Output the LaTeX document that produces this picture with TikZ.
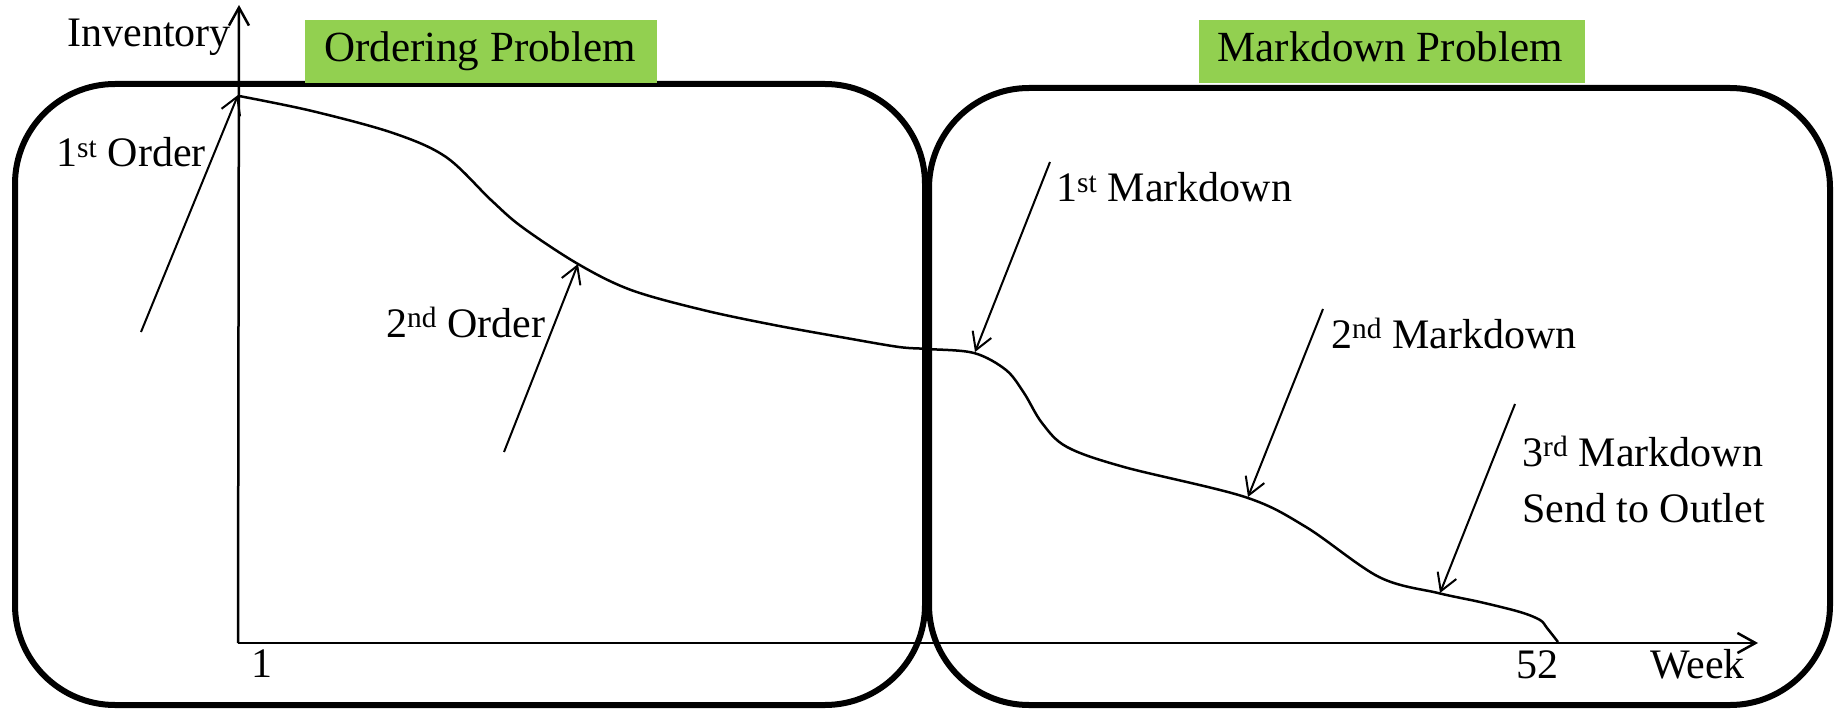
\documentclass[tikz,border=0pt]{standalone}
\usepackage{fontspec}
\setmainfont{Liberation Serif}
\usetikzlibrary{arrows.meta}
\definecolor{titlegreen}{HTML}{92D050}
\tikzset{
  panel/.style={draw=black, line width=6pt, rounded corners=100pt},
  axis/.style={draw=black, line width=2.5pt, -{Straight Barb[length=18pt,width=20pt,line width=2.5pt]}},
  pointer/.style={draw=black, line width=2pt, -{Straight Barb[length=17pt,width=20pt,line width=2pt]}},
  txt/.style={inner sep=0pt, font=\fontsize{42}{50}\selectfont},
  titletxt/.style={inner sep=0pt, font=\fontsize{43}{52}\selectfont},
  stock/.style={draw=black, line width=2.5pt},
}
\begin{document}
\begin{tikzpicture}[x=1pt, y=-1pt]
\useasboundingbox (0,0) rectangle (1835,711);

% the two planning horizons
\draw[panel] (15,84) rectangle (925,705);
\draw[panel] (929,88) rectangle (1830,705);

% title banners
\fill[titlegreen] (305,20) rectangle (657,83);
\node[titletxt, anchor=base] (ordtitle) at (480,62) {Ordering Problem};
\fill[titlegreen] (1199,20) rectangle (1585,83);
\node[titletxt, anchor=base] (mdtitle) at (1390,62) {Markdown Problem};

% axes
\coordinate (origin) at (238,643);
\coordinate (ytop) at (239,5);
\coordinate (xend) at (1758,643);
\draw[axis] (origin) -- (ytop);
\draw[axis] (origin) -- (xend);

\node[txt, anchor=base east] (ylab) at (231,47) {Inventory};
\node[txt, anchor=base east] (xlab) at (1745,678) {Week};
\node[txt, anchor=base] (wk1) at (262,677) {1};
\node[txt, anchor=base] (wk52) at (1537,678) {52};

% inventory level over the season
\draw[stock] plot[smooth, tension=0.55] coordinates {
  (239,96) (312,111) (393,133) (446,157) (491,200) (522,227) (578,264)
  (631,290) (703,310) (774,325) (846,338) (899,347) (928,349) (974,353)
  (1006,370) (1024,393) (1042,423) (1067,447) (1124,467) (1245,497)
  (1306,527) (1379,577) (1438,593) (1480,602) (1520,612) (1540,620)
  (1547,628) (1558,642)};

% event labels and pointers
\node[txt, anchor=base west] (ord1) at (56,167) {1\textsuperscript{st} Order};
\coordinate (ord1from) at (141,332);
\coordinate (ord1to) at (238,95);
\draw[pointer] (ord1from) -- (ord1to);

\node[txt, anchor=base west] (ord2) at (386,337) {2\textsuperscript{nd} Order};
\coordinate (ord2from) at (504,452);
\coordinate (ord2to) at (578,264);
\draw[pointer] (ord2from) -- (ord2to);

\node[txt, anchor=base west] (md1) at (1056,202) {1\textsuperscript{st} Markdown};
\coordinate (md1from) at (1050,162);
\coordinate (md1to) at (975,352);
\draw[pointer] (md1from) -- (md1to);

\node[txt, anchor=base west] (md2) at (1331,348) {2\textsuperscript{nd} Markdown};
\coordinate (md2from) at (1323,309);
\coordinate (md2to) at (1248,497);
\draw[pointer] (md2from) -- (md2to);

\node[txt, anchor=base west] (md3) at (1522,466) {3\textsuperscript{rd} Markdown};
\node[txt, anchor=base west] (outlet) at (1522,522) {Send to Outlet};
\coordinate (md3from) at (1515,404);
\coordinate (md3to) at (1440,593);
\draw[pointer] (md3from) -- (md3to);
\end{tikzpicture}
\end{document}
